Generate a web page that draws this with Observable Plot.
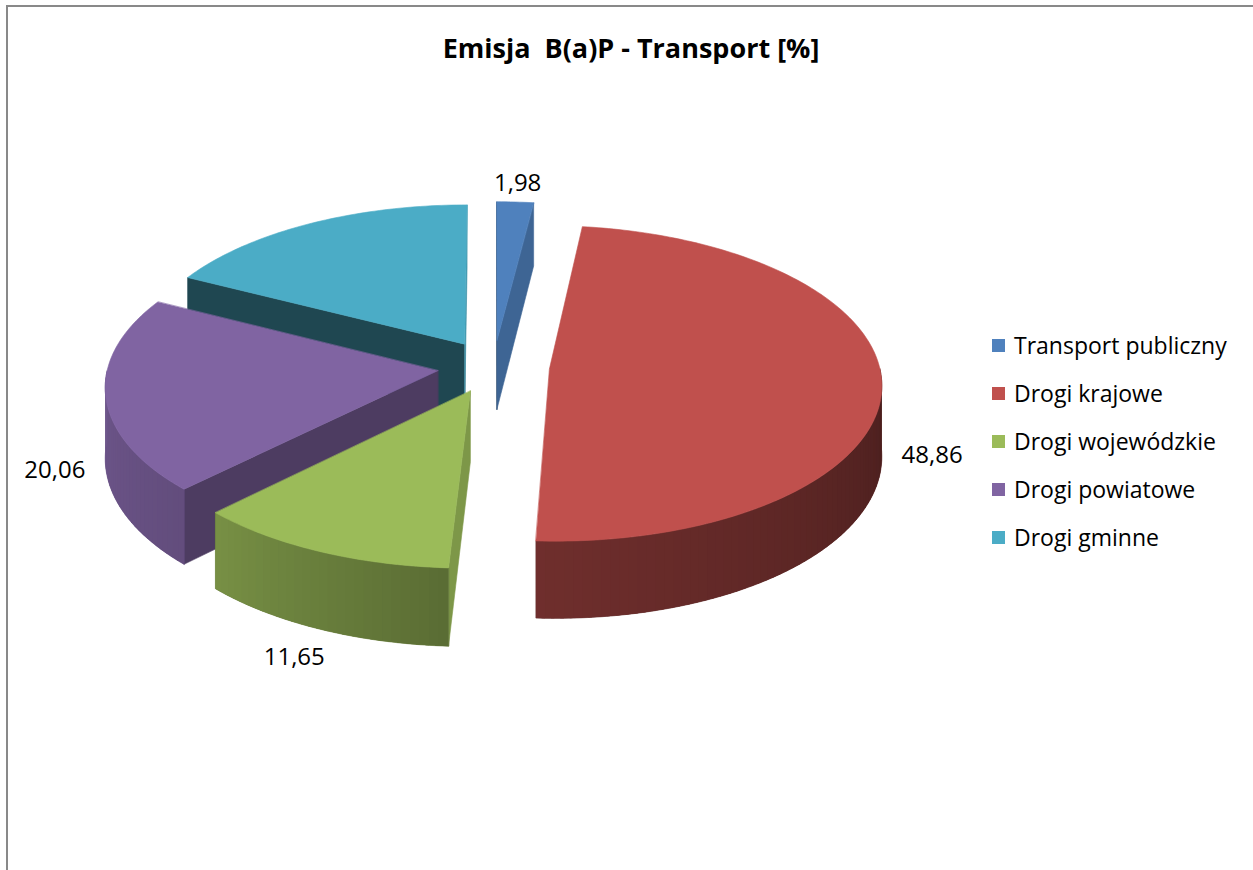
<!DOCTYPE html>
<html>
<head>
<meta charset="utf-8">
<script src="https://cdn.jsdelivr.net/npm/d3@7"></script>
<script src="https://cdn.jsdelivr.net/npm/@observablehq/plot@0.6"></script>
<style>
  html, body { margin: 0; padding: 0; background: #fff; overflow: hidden; }
  body { width: 1253px; height: 870px; position: relative; font-family: "Open Sans", sans-serif; }
  #frame { position: absolute; left: 6px; top: 5px; width: 1300px; height: 900px; border-top: 2px solid #898989; border-left: 2px solid #898989; }
  #chart { position: absolute; left: 0; top: 0; }
  #title { position: absolute; left: 0; top: 28px; width: 1262px; text-align: center; font-weight: bold; font-size: 27px; line-height: 40px; color: #000; white-space: pre; }
  #legend { position: absolute; left: 992px; top: 321px; }
  .row { display: flex; align-items: center; height: 48px; font-size: 23px; color: #000; white-space: nowrap; }
  .sw { width: 13px; height: 13px; margin-right: 9px; }
  svg text { white-space: pre; }
</style>
</head>
<body>
<div id="frame"></div>
<div id="chart"></div>
<div id="title"></div>
<div id="legend"></div>
<script>
// ---- data ----
const chartTitle = "Emisja  B(a)P - Transport [%]";
const categories = ["Transport publiczny", "Drogi krajowe", "Drogi wojewódzkie", "Drogi powiatowe", "Drogi gminne"];
const values = [1.98, 48.86, 11.65, 20.06, 17.45];
const colors = ["#4F81BD", "#C0504D", "#9BBB59", "#8064A2", "#4BACC6"];
const showLabel = [true, true, true, true, false];

// ---- 3D pie geometry (pseudo-perspective) ----
const G = {cx: 493, cy: 366, S: 330, K: 156, T: 70, c: 0.092, d: 0.17};
function proj(u, v, h) {
  const p = 1 / (1 + G.c * v);
  return [G.cx + G.S * u * p, G.cy - G.K * v * p + G.T * h * p];
}
const total = d3.sum(values);
let acc = 0;
const slices = values.map((v, i) => {
  const a0 = acc / total * 2 * Math.PI;
  acc += v;
  const a1 = acc / total * 2 * Math.PI;
  const mid = (a0 + a1) / 2;
  return {i, name: categories[i], value: v, color: colors[i], a0, a1, mid,
          ox: G.d * Math.sin(mid), oz: G.d * Math.cos(mid)};
});
const deg = r => r * 180 / Math.PI;
const sideShade = d3.scaleLinear([90, 183, 225, 270], [0.38, 0.58, 0.77, 0.86]).clamp(true);
const wallShade = d3.scaleLinear([90, 135, 207], [0.82, 0.6, 0.41]).clamp(true);
function shade(col, f) {
  const c = d3.rgb(col);
  return d3.rgb(c.r * f, c.g * f, c.b * f).formatHex();
}
function pt(s, a, r, h) {
  return proj(r * Math.sin(a) + s.ox, r * Math.cos(a) + s.oz, h);
}
function area(pts) {
  let A = 0;
  for (let k = 0; k < pts.length; k++) {
    const [x1, y1] = pts[k], [x2, y2] = pts[(k + 1) % pts.length];
    A += x1 * y2 - x2 * y1;
  }
  return A / 2;
}

let pid = 0;
function addPoly(target, pts, fill) {
  const id = pid++;
  for (const [x, y] of pts) target.push({id, x, y, fill});
}

const order = slices.slice().sort((a, b) => Math.cos(b.mid) - Math.cos(a.mid));
const layers = [];
for (const s of order) {
  const base = [], grad = [], topL = [];
  const apexT = proj(s.ox, s.oz, 0), apexB = proj(s.ox, s.oz, 1);
  // radial walls
  const w0 = [apexT, pt(s, s.a0, 1, 0), pt(s, s.a0, 1, 1), apexB];
  if (area(w0) < 0) addPoly(base, w0, shade(s.color, wallShade((deg(s.a0) - 90 + 360) % 360)));
  const w1 = [apexT, pt(s, s.a1, 1, 0), pt(s, s.a1, 1, 1), apexB];
  if (area(w1) > 0) addPoly(base, w1, shade(s.color, wallShade((deg(s.a1) + 90) % 360)));
  // outer curved side (front-facing part)
  const lo = Math.max(s.a0, Math.PI / 2), hi = Math.min(s.a1, 3 * Math.PI / 2);
  if (hi > lo) {
    const n = Math.max(2, Math.ceil(deg(hi - lo) / 1.5));
    const outline = [];
    for (let k = 0; k <= n; k++) outline.push(pt(s, lo + (hi - lo) * k / n, 1, 0));
    for (let k = n; k >= 0; k--) outline.push(pt(s, lo + (hi - lo) * k / n, 1, 1));
    addPoly(base, outline, shade(s.color, sideShade(deg((lo + hi) / 2))));
    for (let k = 0; k < n; k++) {
      const t0 = lo + (hi - lo) * k / n, t1 = lo + (hi - lo) * (k + 1.4) / n;
      addPoly(grad, [pt(s, t0, 1, 0), pt(s, Math.min(t1, hi), 1, 0), pt(s, Math.min(t1, hi), 1, 1), pt(s, t0, 1, 1)],
              shade(s.color, sideShade(deg(t0 + (hi - lo) / n / 2))));
    }
  }
  // top face
  const top = [apexT];
  const m = Math.max(2, Math.ceil(deg(s.a1 - s.a0)));
  for (let k = 0; k <= m; k++) top.push(pt(s, s.a0 + (s.a1 - s.a0) * k / m, 1, 0));
  addPoly(topL, top, s.color);
  layers.push(base, grad, topL);
}

// data labels (outside end)
const labels = slices.filter(s => showLabel[s.i]).map(s => {
  const r = 1 + G.d + 0.15;
  const h = Math.cos(s.mid) < 0 ? 1 : 0;
  const [x, y] = proj(r * Math.sin(s.mid), r * Math.cos(s.mid), h);
  return {x, y, text: s.value.toFixed(2).replace(".", ",")};
});

const W = 1253, H = 870;
const faceMarks = layers.map((L, j) => Plot.line(L, {
  x: "x", y: "y", z: "id", fill: "fill", curve: "linear-closed",
  stroke: j % 3 === 1 ? null : "fill", strokeWidth: j % 3 === 1 ? 0 : 0.6
}));
const chart = Plot.plot({
  width: W, height: H, margin: 0,
  x: {domain: [0, W], range: [0, W], axis: null},
  y: {domain: [0, H], range: [0, H], axis: null},
  color: {type: "identity"},
  style: {background: "transparent", fontFamily: "'Open Sans', sans-serif"},
  marks: [
    ...faceMarks,
    Plot.text(labels, {x: "x", y: "y", text: "text", fontSize: 24, fill: "#000", textAnchor: "middle"})
  ]
});
document.getElementById("chart").appendChild(chart);
document.getElementById("title").textContent = chartTitle;

const leg = document.getElementById("legend");
categories.forEach((c, i) => {
  const row = document.createElement("div");
  row.className = "row";
  const sw = document.createElement("div");
  sw.className = "sw";
  sw.style.background = colors[i];
  const tx = document.createElement("span");
  tx.textContent = c;
  row.appendChild(sw); row.appendChild(tx);
  leg.appendChild(row);
});
</script>
</body>
</html>
